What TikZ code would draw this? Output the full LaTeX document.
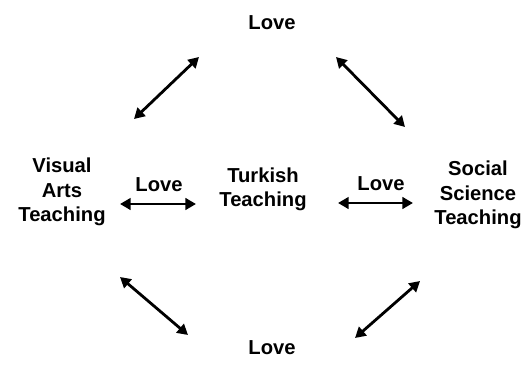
\documentclass[tikz,border=0pt]{standalone}
\usepackage{fontspec}
\setmainfont{Liberation Sans}
\usepackage{tikz}
\usetikzlibrary{positioning, arrows, arrows.meta}

\begin{document}
\begin{tikzpicture}[x=0.02cm,y=-0.02cm,
  lbl/.style={font=\bfseries\fontsize{11.5}{13.8}\selectfont, align=center, inner sep=0pt},
  link/.style={line width=1.6pt, {Triangle[length=6pt,width=6.5pt]}-{Triangle[length=6pt,width=6.5pt]}}]
\useasboundingbox (0,0) rectangle (523,385);

% Teaching fields
\node[lbl] (turkish) at (263,189) {Turkish\\Teaching};
\node[lbl] (visual) at (62,192) {Visual\\Arts\\Teaching};
\node[lbl] (social) at (478,195) {Social\\Science\\Teaching};

% Love labels
\node[lbl] (lovetop) at (272,23) {Love};
\node[lbl] (lovebot) at (272,348) {Love};
\node[lbl] (loveleft) at (159,185) {Love};
\node[lbl] (loveright) at (381,184) {Love};

% arrow ends
\coordinate (a1) at (120,204); \coordinate (a2) at (196,204);
\coordinate (b1) at (338,203); \coordinate (b2) at (413,203);
\coordinate (c1) at (134,119); \coordinate (c2) at (199,57);
\coordinate (d1) at (336,57);  \coordinate (d2) at (405,127);
\coordinate (e1) at (120,277); \coordinate (e2) at (188,335);
\coordinate (f1) at (355,338); \coordinate (f2) at (420,281);

\draw[link] (a1) -- (a2);
\draw[link] (b1) -- (b2);
\draw[link] (c1) -- (c2);
\draw[link] (d1) -- (d2);
\draw[link] (e1) -- (e2);
\draw[link] (f1) -- (f2);
\end{tikzpicture}
\end{document}
